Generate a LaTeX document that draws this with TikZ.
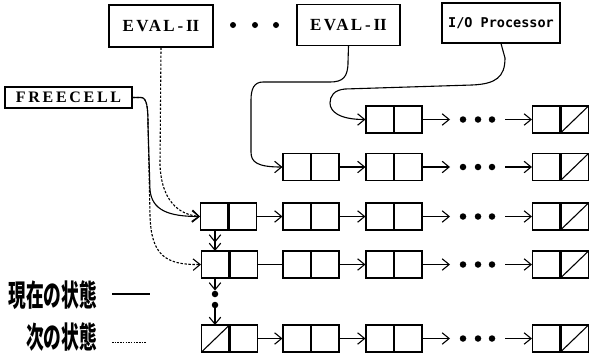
\documentclass[tikz,border=0pt]{standalone}
\usepackage{fontspec}
\usetikzlibrary{arrows.meta}
\newfontfamily\boxfont{Liberation Serif}
\newfontfamily\iofont{DejaVu Sans Mono}
\newfontfamily\cjkfont{Noto Sans CJK JP}
\tikzset{
  lw/.style={line width=1.1pt},
  cell/.style={draw, lw, minimum width=56pt, minimum height=27pt, inner sep=0pt,
    path picture={\draw[line width=2.2pt] (path picture bounding box.north) -- (path picture bounding box.south);}},
  nilcell/.style={cell,
    path picture={\draw[line width=2.2pt] (path picture bounding box.north) -- (path picture bounding box.south);
      \draw[line width=1.1pt] (path picture bounding box.south) -- (path picture bounding box.north east);}},
  freeend/.style={cell,
    path picture={\draw[line width=2.2pt] (path picture bounding box.north) -- (path picture bounding box.south);
      \draw[line width=1.1pt] (path picture bounding box.south west) -- (path picture bounding box.north);}},
  topbox/.style={draw, lw, inner sep=0pt, font={\boxfont\bfseries\fontsize{17pt}{18pt}\selectfont}},
  dot/.style={circle, fill=black, inner sep=0pt, minimum size=6.5pt},
  tip/.tip={Straight Barb[length=7pt,width=11.5pt,line width=1.1pt]},
  arr/.style={line width=1.1pt, -tip},
  darr/.style={line width=1.1pt, -{tip[]tip[]}},
  plain/.style={line width=1.1pt},
  nxt/.style={line width=1.1pt, dash pattern=on 2.4pt off 1.6pt},
  nxtarr/.style={nxt, -tip},
  jp/.style={font={\cjkfont\bfseries\fontsize{30pt}{32pt}\selectfont}, inner sep=0pt, anchor=east}
}
\begin{document}
\begin{tikzpicture}[x=1pt,y=-1pt]
\useasboundingbox (0,0) rectangle (591,354);
% top boxes
\node[topbox, minimum width=104pt, minimum height=42pt] (e1) at (161,26) {\addfontfeature{LetterSpace=14}EVAL\,-\,{\addfontfeature{LetterSpace=0}II}};
\node[dot, minimum size=6pt] (t1) at (233,25) {};
\node[dot, minimum size=6pt] (t2) at (255,25) {};
\node[dot, minimum size=6pt] (t3) at (276,25) {};
\node[topbox, minimum width=103pt, minimum height=41pt] (e2) at (348.5,25) {\addfontfeature{LetterSpace=14}EVAL\,-\,{\addfontfeature{LetterSpace=0}II}};
\node[topbox, minimum width=118pt, minimum height=40pt, font={\iofont\bfseries\fontsize{13.5pt}{15pt}\selectfont}] (io) at (501,23) {I/O Processor};
\node[topbox, minimum width=127pt, minimum height=21pt, font={\boxfont\bfseries\fontsize{16pt}{18pt}\selectfont}] (fc) at (68.5,97.5) {\addfontfeature{LetterSpace=17}FREECELL};

% row 1
\node[cell] (r1c1) at (394,119.5) {};
\node[dot] (r1d1) at (463,119.5) {};
\node[dot] (r1d2) at (478,119.5) {};
\node[dot] (r1d3) at (492,119.5) {};
\node[nilcell] (r1n) at (560.5,119.5) {};
\coordinate (r1a) at (450,119.5);
\coordinate (r1b) at (505,119.5);
% row 2
\node[cell] (r2c1) at (311,167) {};
\node[cell] (r2c2) at (394,167) {};
\node[dot] (r2d1) at (463,167) {};
\node[dot] (r2d2) at (478,167) {};
\node[dot] (r2d3) at (492,167) {};
\node[nilcell] (r2n) at (560.5,167) {};
\coordinate (r2a) at (450,167);
\coordinate (r2b) at (505,167);
% row 3
\node[cell] (r3c1) at (228.5,216.5) {};
\node[cell] (r3c2) at (311,216.5) {};
\node[cell] (r3c3) at (394,216.5) {};
\node[dot] (r3d1) at (463,216.5) {};
\node[dot] (r3d2) at (478,216.5) {};
\node[dot] (r3d3) at (492,216.5) {};
\node[nilcell] (r3n) at (560.5,216.5) {};
\coordinate (r3a) at (450,216.5);
\coordinate (r3b) at (505,216.5);
% row 4
\node[cell] (r4c1) at (229.5,264.5) {};
\node[cell] (r4c2) at (311,264.5) {};
\node[cell] (r4c3) at (394,264.5) {};
\node[dot] (r4d1) at (463,264.5) {};
\node[dot] (r4d2) at (478,264.5) {};
\node[dot] (r4d3) at (492,264.5) {};
\node[nilcell] (r4n) at (560.5,264.5) {};
\coordinate (r4a) at (450,264.5);
\coordinate (r4b) at (505,264.5);
% row 5
\node[freeend] (r5c1) at (229.5,338.5) {};
\node[cell] (r5c2) at (311,338.5) {};
\node[cell] (r5c3) at (394,338.5) {};
\node[dot] (r5d1) at (463,338.5) {};
\node[dot] (r5d2) at (478,338.5) {};
\node[dot] (r5d3) at (492,338.5) {};
\node[nilcell] (r5n) at (560.5,338.5) {};
\coordinate (r5a) at (450,338.5);
\coordinate (r5b) at (505,338.5);

% horizontal links
\draw[arr] (r1c1.east) -- (r1a);
\draw[arr] (r1b) -- (r1n.west);
\draw[arr] (r2c1.east) -- (r2c2.west);
\draw[arr] (r2c2.east) -- (r2a);
\draw[arr] (r2b) -- (r2n.west);
\draw[arr] (r3c1.east) -- (r3c2.west);
\draw[arr] (r3c2.east) -- (r3c3.west);
\draw[arr] (r3c3.east) -- (r3a);
\draw[arr] (r3b) -- (r3n.west);
\draw[plain] (r4c1.east) -- (r4c2.west);
\draw[arr] (r4c2.east) -- (r4c3.west);
\draw[arr] (r4c3.east) -- (r4a);
\draw[arr] (r4b) -- (r4n.west);
\draw[arr] (r5c1.east) -- (r5c2.west);
\draw[arr] (r5c2.east) -- (r5c3.west);
\draw[arr] (r5c3.east) -- (r5a);
\draw[arr] (r5b) -- (r5n.west);

% vertical free list
\coordinate (v3) at (215,231);
\coordinate (v4t) at (215,251);
\coordinate (v4b) at (215,278);
\node[dot] (vd1) at (215,294) {};
\node[dot] (vd2) at (215,305) {};
\coordinate (v5t) at (215,325);
\draw[darr] (v3) -- (v4t);
\draw[arr] (v4b) -- (vd1.north);
\draw[arr] (vd2) -- (v5t);

% FREECELL pointers
\draw[arr] (fc.east) -- (141,97.5) .. controls (147,97.5) and (148,108) .. (148,125)
  -- (150,190) .. controls (152,210) and (168,216.5) .. (r3c1.west);
\draw[nxtarr] (fc.east) -- (141,97.5) .. controls (147,97.5) and (148,108) .. (148,125)
  -- (150,215) .. controls (151,255) and (165,265) .. (r4c1.west);
% EVAL-II (left) next-state pointer
\draw[nxtarr] (e1.south) -- (160,165) .. controls (161,192) and (172,214) .. (r3c1.west);
% EVAL-II (right)
\draw[arr] (e2.south) -- (348,62) .. controls (348,77) and (343,82) .. (330,82)
  -- (263,82) .. controls (254,82) and (251,89) .. (251,100) -- (251,152)
  .. controls (251,162) and (257,167) .. (r2c1.west);
% I/O Processor
\draw[arr] (io.south) -- (505,58) .. controls (505,77) and (496,84) .. (472,85)
  -- (345,89) .. controls (334,90) and (330,96) .. (330,103)
  .. controls (330,112) and (340,119.5) .. (r1c1.west);

% legend
\node[jp] (l1) at (97,295) {\scalebox{0.59}[1]{現在の状態}};
\node[jp] (l2) at (97,337.5) {\scalebox{0.59}[1]{次の状態}};
\coordinate (l1a) at (112,294);
\coordinate (l1b) at (150,294);
\coordinate (l2a) at (112,342);
\coordinate (l2b) at (147,342);
\draw[plain] (l1a) -- (l1b);
\draw[line width=1pt, dash pattern=on 1.5pt off 1.2pt] (l2a) -- (l2b);
\end{tikzpicture}
\end{document}
